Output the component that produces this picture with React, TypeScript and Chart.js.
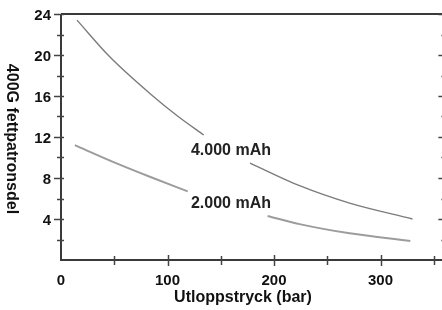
import { useEffect, useRef } from 'react';
import { Chart, registerables } from 'chart.js';

Chart.register(...registerables);

// ---- data ----
const pressure4000 = [15, 46, 84, 110, 134, 155, 177.5, 224, 271, 330];
const capacity4000 = [23.4, 19.8, 16.2, 14.0, 12.2, null, 9.46, 7.25, 5.55, 4.0];
const pressure2000 = [13, 46, 84, 119, 155, 194, 224, 271, 328];
const capacity2000 = [11.2, 9.7, 8.1, 6.7, null, 4.3, 3.5, 2.6, 1.85];

const seriesNames = ['4.000 mAh', '2.000 mAh'];
const seriesLabelX = [122, 122];
const seriesLabelY = [10.2, 5.07];

const xTickValues = [50, 100, 150, 200, 250, 300, 350];
const xLabelValues = [0, 100, 200, 300];
const yTickValues = [2, 4, 6, 8, 10, 12, 14, 16, 18, 20, 22, 24];
const yLabelValues = [4, 8, 12, 16, 20, 24];

const xTitle = 'Utloppstryck (bar)';
const yTitle = '400G fettpatronsdel';

const X_MAX = 360;
const Y_MAX = 24;

const FONT = '"Liberation Sans", Arial, sans-serif';

const axesPlugin = {
  id: 'customAxes',
  beforeDatasetsDraw(chart: any) {
    const { ctx, chartArea } = chart;
    const xs = chart.scales.x;
    const ys = chart.scales.y;
    const left = chartArea.left;
    const right = chartArea.right;
    const top = chartArea.top;
    const bottom = chartArea.bottom;
    ctx.save();
    ctx.strokeStyle = '#3a3a3a';
    ctx.lineWidth = 2;
    ctx.beginPath();
    ctx.moveTo(left, top);
    ctx.lineTo(right, top);
    ctx.moveTo(left, top);
    ctx.lineTo(left, bottom);
    ctx.lineTo(right, bottom);
    ctx.lineTo(right, top);
    ctx.stroke();

    ctx.lineWidth = 1.5;
    ctx.strokeStyle = '#444';
    ctx.beginPath();
    for (const v of yTickValues) {
      const major = v % 4 === 0;
      const py = Math.round(ys.getPixelForValue(v)) + 0.5;
      ctx.moveTo(left - (major ? 7 : 4), py);
      ctx.lineTo(left + 3, py);
      ctx.moveTo(right - (major ? 6 : 3), py);
      ctx.lineTo(right + 4, py);
    }
    for (const v of xTickValues) {
      const major = v % 100 === 0;
      const px = Math.round(xs.getPixelForValue(v)) + 0.5;
      ctx.moveTo(px, bottom - (major ? 5 : 4));
      ctx.lineTo(px, bottom + (major ? 6 : 5));
    }
    ctx.stroke();

    ctx.fillStyle = '#111';
    ctx.font = `bold 15px ${FONT}`;
    ctx.textAlign = 'right';
    ctx.textBaseline = 'alphabetic';
    for (const v of yLabelValues) {
      ctx.fillText(String(v), left - 10, ys.getPixelForValue(v) + 5.5);
    }
    ctx.textAlign = 'center';
    for (const v of xLabelValues) {
      ctx.fillText(String(v), xs.getPixelForValue(v), bottom + 25);
    }

    ctx.font = `bold 16px ${FONT}`;
    ctx.fillText(xTitle, 243, 302);

    ctx.save();
    ctx.translate(7, (top + bottom) / 2 + 2);
    ctx.rotate(Math.PI / 2);
    ctx.textAlign = 'center';
    ctx.fillText(yTitle, 0, 0);
    ctx.restore();
    ctx.restore();
  },
  afterDatasetsDraw(chart: any) {
    const { ctx } = chart;
    const xs = chart.scales.x;
    const ys = chart.scales.y;
    ctx.save();
    ctx.fillStyle = '#222';
    ctx.font = `bold 16px ${FONT}`;
    ctx.textAlign = 'left';
    ctx.textBaseline = 'alphabetic';
    seriesNames.forEach((name, i) => {
      ctx.fillText(name, xs.getPixelForValue(seriesLabelX[i]), ys.getPixelForValue(seriesLabelY[i]));
    });
    ctx.restore();
  },
};

export default function App() {
  const ref = useRef<HTMLCanvasElement | null>(null);

  useEffect(() => {
    document.body.style.margin = '0';
    const canvas = ref.current;
    if (!canvas) return;
    const toPoints = (xs: number[], ys: (number | null)[]) =>
      xs.map((x, i) => ({ x, y: ys[i] }));
    const chart = new Chart(canvas, {
      type: 'line',
      data: {
        datasets: [
          {
            label: seriesNames[0],
            data: toPoints(pressure4000, capacity4000) as any,
            borderColor: '#7c7c7c',
            borderWidth: 1.4,
            pointRadius: 0,
            cubicInterpolationMode: 'monotone',
            spanGaps: false,
          },
          {
            label: seriesNames[1],
            data: toPoints(pressure2000, capacity2000) as any,
            borderColor: '#9c9c9c',
            borderWidth: 2,
            pointRadius: 0,
            cubicInterpolationMode: 'monotone',
            spanGaps: false,
          },
        ],
      },
      options: {
        animation: false,
        responsive: false,
        devicePixelRatio: 1,
        layout: { padding: { left: 61, top: 14, right: 460 - 444.4, bottom: 50 } },
        plugins: { legend: { display: false }, tooltip: { enabled: false } },
        scales: {
          x: { type: 'linear', min: 0, max: X_MAX, display: false },
          y: { type: 'linear', min: 0, max: Y_MAX, display: false },
        },
      },
      plugins: [axesPlugin],
    });
    return () => chart.destroy();
  }, []);

  return (
    <div style={{ width: 442, height: 310, overflow: 'hidden', background: '#fff' }}>
      <canvas ref={ref} width={460} height={310} style={{ display: 'block' }} />
    </div>
  );
}
